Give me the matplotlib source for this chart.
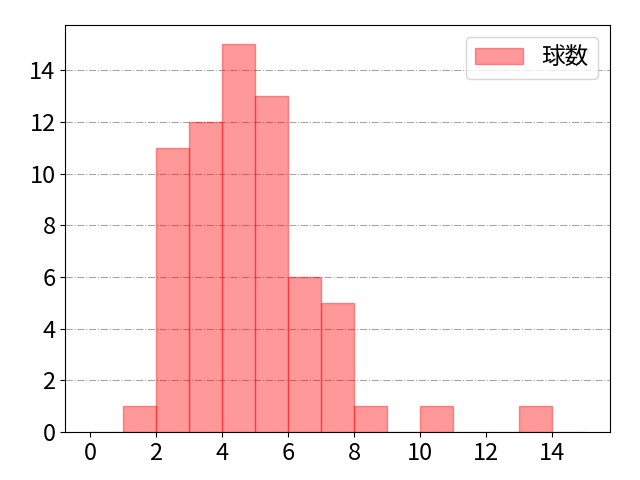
import numpy as np
import matplotlib
matplotlib.use('Agg')
import matplotlib.pyplot as plt
from matplotlib.ticker import MultipleLocator

plt.rcParams['font.family'] = ['Noto Sans CJK JP', 'DejaVu Sans']

# histogram bins (width 1) and counts
bin_left = list(range(0, 15))
counts = [0, 1, 11, 12, 15, 13, 6, 5, 1, 0, 1, 0, 0, 1, 0]
label = '球数'

fig, ax = plt.subplots(figsize=(6.4, 4.8), dpi=100)
ax.bar(bin_left, counts, width=1, align='edge', color='red', alpha=0.4,
       edgecolor='red', linewidth=1, label=label)
ax.xaxis.set_major_locator(MultipleLocator(2))
ax.yaxis.set_major_locator(MultipleLocator(2))
ax.grid(axis='y', linestyle='-.', color='gray', alpha=0.7)
ax.set_axisbelow(True)
ax.tick_params(labelsize=17)
ax.legend(fontsize=17, loc='upper right')
plt.subplots_adjust(left=0.102, right=0.953, top=0.948, bottom=0.1)
plt.savefig('out.png')
